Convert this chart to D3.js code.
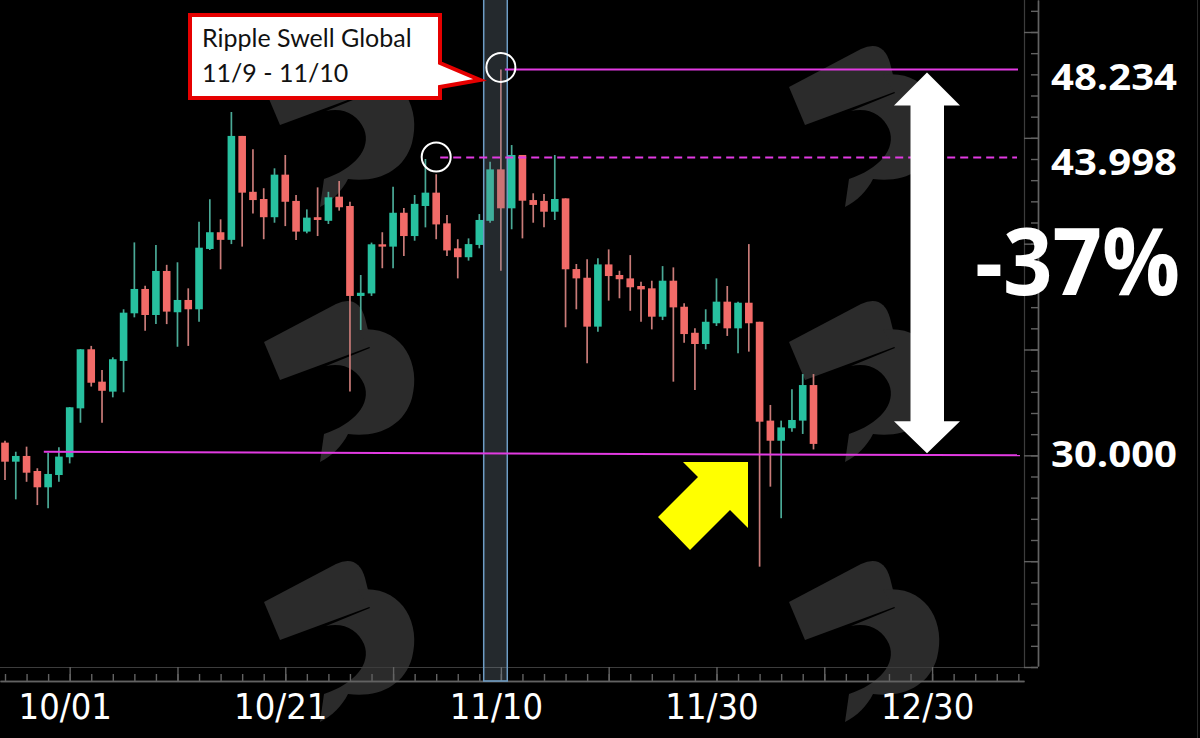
<!DOCTYPE html>
<html><head><meta charset="utf-8">
<script src="https://cdn.jsdelivr.net/npm/d3@7"></script>
<style>html,body{margin:0;padding:0;background:#000;overflow:hidden}</style>
</head><body><svg id="c" width="1200" height="738"></svg>
<script>
// ---- data ----
const dates = ['09/25','09/26','09/27','09/28','09/29','09/30',
 '10/01','10/02','10/03','10/04','10/05','10/06','10/07','10/08','10/09','10/10','10/11','10/12','10/13','10/14','10/15','10/16','10/17','10/18','10/19','10/20','10/21','10/22','10/23','10/24','10/25','10/26','10/27','10/28','10/29','10/30','10/31',
 '11/01','11/02','11/03','11/04','11/05','11/06','11/07','11/08','11/09','11/10','11/11','11/12','11/13','11/14','11/15','11/16','11/17','11/18','11/19','11/20','11/21','11/22','11/23','11/24','11/25','11/26','11/27','11/28','11/29','11/30',
 '12/01','12/02','12/03','12/04','12/05','12/06','12/07','12/08','12/09'];
const open  = [30.60,29.70,29.97,29.26,28.49,29.07,29.91,32.22,35.01,33.48,33.01,34.46,36.71,37.86,36.63,38.71,36.76,37.34,36.90,39.75,40.54,40.18,45.09,42.45,42.11,41.25,43.26,42.02,40.57,41.25,41.08,42.22,41.78,37.53,37.65,39.97,39.86,41.46,40.36,41.78,42.41,40.96,39.78,39.36,39.94,41.08,43.51,41.67,44.19,42.06,42.02,41.51,42.14,38.80,38.39,36.08,39.02,38.52,38.36,38.00,37.89,36.55,38.25,37.02,35.79,35.26,36.24,37.26,36.00,37.21,36.31,31.64,30.69,31.28,31.64,33.32];
const high  = [30.69,30.17,30.41,29.39,30.12,30.38,32.28,35.02,35.17,34.03,34.63,36.90,40.06,38.01,39.94,39.00,39.12,37.89,41.04,42.10,41.15,46.22,45.09,44.46,42.62,43.56,44.19,42.30,41.62,42.66,42.45,42.96,41.98,38.52,40.05,40.54,42.69,41.68,42.30,44.00,43.28,41.35,40.21,40.25,41.40,43.87,48.234,44.66,44.19,42.38,42.35,44.19,42.14,39.04,39.26,39.31,39.73,38.72,39.46,38.20,38.25,38.94,38.88,37.18,36.00,36.90,38.36,38.00,37.26,39.98,36.31,32.38,31.64,33.12,33.84,33.84];
const low   = [28.83,27.92,28.75,27.65,27.50,28.75,29.62,31.54,33.25,31.54,32.74,32.98,36.52,35.89,36.20,36.20,35.13,35.17,36.31,39.70,38.79,39.98,39.86,41.43,40.21,40.99,40.83,40.17,40.49,40.36,40.93,41.56,33.01,35.92,37.53,38.84,38.84,39.42,40.14,40.77,40.21,39.42,38.36,39.20,39.78,40.99,38.72,40.68,40.25,40.99,40.77,41.12,36.05,36.90,34.35,35.84,37.31,37.42,36.83,36.31,35.95,36.39,33.48,35.32,33.09,35.01,36.11,35.64,34.82,34.90,24.74,28.52,27.03,31.12,31.01,30.28];
const close = [29.70,29.97,29.18,28.49,29.12,29.94,32.27,35.01,33.43,33.05,34.54,36.74,37.86,36.63,38.71,36.79,37.34,36.90,39.81,40.54,40.18,45.09,42.41,42.06,41.25,43.26,41.98,40.57,41.23,41.12,42.19,41.72,37.53,37.68,39.97,39.86,41.46,40.36,41.88,42.41,40.91,39.68,39.36,39.98,41.12,43.51,41.67,44.19,42.03,41.83,41.51,42.11,38.79,38.36,36.08,39.02,38.47,38.32,37.94,37.84,36.55,38.25,36.99,35.73,35.26,36.31,37.26,36.00,37.21,36.24,31.59,30.69,31.32,31.67,33.32,30.54];
const tickIdx    = [6, 26, 46, 66, 86];
const tickLabels = ['10/01','10/21','11/10','11/30','12/30'];
const levelValues = [48.234, 43.998, 30.000];
const levelLabels = ['48.234','43.998','30.000'];
const changeLabel = '-37%';
const noteLines = ['Ripple Swell Global','11/9 - 11/10'];
const highlightDates = ['11/09','11/10'];

// ---- setup ----
const svg = d3.select('#c');
const UP = '#27c09f', DOWN = '#f26b68', UPW = '#4aa996', DOWNW = '#c97b78';
const MAG = '#e23be2';
const x = d3.scaleLinear().domain([0, 75]).range([5, 813.5]);
const y = d3.scaleLinear().domain([20, 50]).range([667, 32]);

svg.append('rect').attr('width',1200).attr('height',738).attr('fill','#000');

// watermarks
const logoPos = [[262,45],[787,45],[262,300],[787,300],[262,560],[787,560]];
const wm = svg.append('g');
logoPos.forEach(([lx,ly])=>{
  const g = wm.append('g').attr('transform',`translate(${lx},${ly})`).attr('fill','#2b2b2b');
  g.append('path').attr('d','M2,42 L74,4 Q96,-6 103,18 L110,46 L18,80 Z');
  g.append('path').attr('d','M96,30 C138,24 160,62 150,98 C142,126 116,138 86,134 L62,134 C92,124 110,104 102,84 C96,70 82,62 64,66 L108,48 Z');
  g.append('path').attr('d','M62,134 L86,134 C80,146 70,156 58,162 Z');
});

// frame
const frame = svg.append('g').attr('stroke','#3c3c3c').attr('stroke-width',1.2).attr('fill','none');
frame.append('line').attr('x1',1024.5).attr('x2',1024.5).attr('y1',0).attr('y2',667.5);
frame.append('line').attr('x1',0).attr('x2',1024.5).attr('y1',667.5).attr('y2',667.5);
svg.append('line').attr('x1',1197.5).attr('x2',1197.5).attr('y1',0).attr('y2',738).attr('stroke','#2a2a2a');

// axes
const xAx = x.copy().domain([x.invert(0), x.invert(1024)]).range([0,1024]);
const axStyle = g => { g.selectAll('path,line').attr('stroke','#626262').attr('stroke-width',1.4); };
svg.append('g').attr('transform','translate(0,681)')
  .call(d3.axisBottom(xAx).tickValues(d3.range(0,95,2)).tickSizeInner(-7).tickSizeOuter(0).tickFormat(''))
  .call(axStyle);
const xMaj = svg.append('g').attr('transform','translate(0,681)')
  .call(d3.axisBottom(xAx).tickValues(d3.range(6,95,10)).tickSizeInner(-14).tickSizeOuter(0)
     .tickFormat(d => { const k = tickIdx.indexOf(d); return k >= 0 ? tickLabels[k] : ''; }))
  .call(axStyle);
xMaj.selectAll('text').attr('y',38).attr('dy',0).attr('dx',-5)
  .attr('fill','#fff').style('font-family',"'DejaVu Sans Condensed','DejaVu Sans',sans-serif")
  .style('font-stretch','condensed').style('font-size','36px');

const yAx = y.copy().domain([y.invert(666), y.invert(0)]).range([666,0]);
svg.append('g').attr('transform','translate(1038,0)')
  .call(d3.axisLeft(yAx).tickValues(d3.range(20,52)).tickSizeInner(7).tickSizeOuter(0).tickFormat(''))
  .call(axStyle);
svg.append('g').attr('transform','translate(1038,0)')
  .call(d3.axisLeft(yAx).tickValues(d3.range(20,52,5)).tickSizeInner(14).tickSizeOuter(0).tickFormat(''))
  .call(axStyle);

// candles
const idx = d3.range(dates.length);
const cg = svg.append('g');
cg.selectAll('line.w').data(idx).join('line').attr('class','w')
  .attr('x1', i=>x(i)).attr('x2', i=>x(i))
  .attr('y1', i=>y(high[i])).attr('y2', i=>y(low[i]))
  .attr('stroke', i=> close[i] >= open[i] ? UPW : DOWNW).attr('stroke-width',1.7);
cg.selectAll('rect.b').data(idx).join('rect').attr('class','b')
  .attr('x', i=>x(i)-3.8).attr('width',7.6)
  .attr('y', i=>y(Math.max(open[i],close[i])))
  .attr('height', i=>Math.max(2, Math.abs(y(open[i])-y(close[i]))))
  .attr('fill', i=> close[i] >= open[i] ? UP : DOWN);

// highlight band
const h0 = dates.indexOf(highlightDates[0]), h1 = dates.indexOf(highlightDates[1]);
svg.append('rect').attr('x', x(h0-0.5)-1).attr('width', x(h1+0.5)-x(h0-0.5)+2)
  .attr('y',-2).attr('height',683)
  .attr('fill','rgba(120,135,150,0.30)').attr('stroke','#6d9cc4').attr('stroke-width',1.5);

// level lines
const iTop = dates.indexOf('11/10'), iSec = dates.indexOf('11/04');
svg.append('line').attr('x1', x(iTop)+4).attr('x2',1018).attr('y1',y(levelValues[0])).attr('y2',y(levelValues[0]))
  .attr('stroke',MAG).attr('stroke-width',2);
svg.append('line').attr('x1', x(iSec)+4).attr('x2',1017).attr('y1',y(levelValues[1])-1.5).attr('y2',y(levelValues[1])-1.5)
  .attr('stroke',MAG).attr('stroke-width',2).attr('stroke-dasharray','8,5');
svg.append('line').attr('x1', x(3.6)).attr('x2',1020).attr('y1',y(levelValues[2]+0.17)).attr('y2',y(levelValues[2]))
  .attr('stroke',MAG).attr('stroke-width',2);

// circles
[[iSec, levelValues[1]],[iTop, levelValues[0]]].forEach(([i,v])=>{
  svg.append('circle').attr('cx',x(i)).attr('cy',y(v)-2).attr('r',14.5)
    .attr('fill','none').attr('stroke','#fff').attr('stroke-width',2);
});

// level labels
const lblY = [90, 175, 467];
levelLabels.forEach((t,k)=>{
  svg.append('text').attr('x',1051).attr('y',lblY[k]).text(t)
    .attr('fill','#fff').attr('textLength',126).attr('lengthAdjust','spacingAndGlyphs')
    .style('font-family',"'Open Sans',sans-serif").style('font-weight',700).style('font-size','36px');
});

// double arrow
const yt = y(levelValues[0])+3, yb = y(levelValues[2])-2, cx = 927;
svg.append('path').attr('fill','#fff').attr('d',
  `M${cx},${yt} L${cx+33},${yt+33} L${cx+17},${yt+33} L${cx+17},${yb-32} L${cx+33},${yb-32} L${cx},${yb} L${cx-33},${yb-32} L${cx-16.5},${yb-32} L${cx-16.5},${yt+33} L${cx-33},${yt+33} Z`);

svg.append('text').attr('x',975).attr('y',295).text(changeLabel)
  .attr('fill','#fff').attr('textLength',205).attr('lengthAdjust','spacingAndGlyphs')
  .style('font-family',"'Open Sans',sans-serif").style('font-weight',700).style('font-size','94px');

// yellow arrow
svg.append('polygon').attr('fill','#ffff00')
  .attr('points','748,462 683,462 698,477 658,517 690,550 730,510 748,528');

// callout
svg.append('path').attr('d','M190,15 H440 V63 L480,80 L440,87 V98 H190 Z')
  .attr('fill','#fff').attr('stroke','#e60000').attr('stroke-width',4).attr('stroke-linejoin','miter');
noteLines.forEach((t,k)=>{
  svg.append('text').attr('x',202).attr('y',[47,82][k]).text(t)
    .attr('fill','#111').style('font-family',"Lato,'Open Sans',sans-serif").style('font-size','25px');
});
</script></body></html>
